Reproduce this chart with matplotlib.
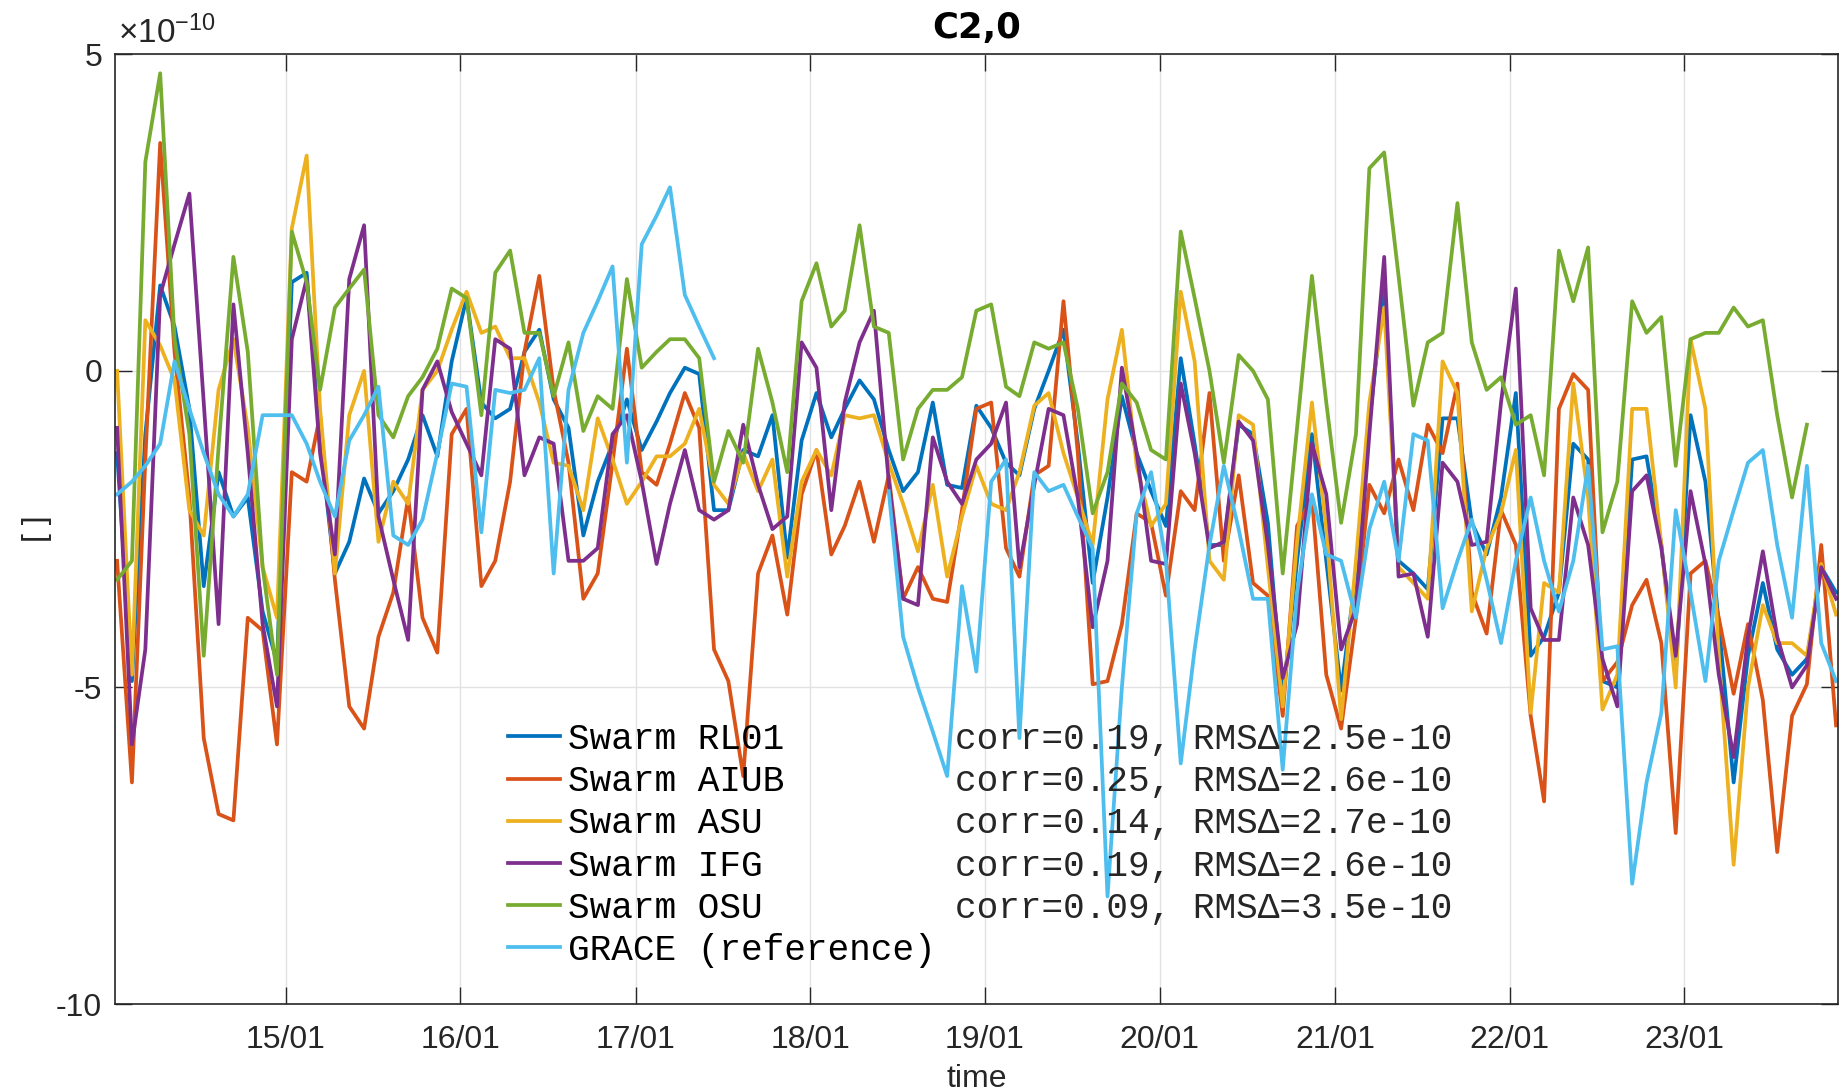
import numpy as np
import pandas as pd
import matplotlib
matplotlib.use('Agg')
import matplotlib.pyplot as plt
import matplotlib.dates as mdates

plt.rcParams['font.family'] = 'Liberation Sans'
plt.rcParams['axes.unicode_minus'] = False
plt.rcParams['mathtext.fontset'] = 'custom'
plt.rcParams['mathtext.rm'] = 'Liberation Sans'
plt.rcParams['mathtext.default'] = 'regular'

# monthly solutions Jan 2014 .. Nov 2023, values in units of 1e-10
months = pd.date_range('2014-01-01', periods=119, freq='MS') + pd.Timedelta(days=13)

rl01 = [-1.3, -4.9, -1.0, 1.35, 0.7, -0.6, -3.4, -1.6, -2.3, -2.0,
        -3.8, -4.6, 1.4, 1.55, -1.1, -3.2, -2.7, -1.7, -2.25, -1.9,
        -1.4, -0.7, -1.35, 0.15, 1.15, -0.5, -0.75, -0.6, 0.3, 0.65,
        -0.45, -0.9, -2.6, -1.75, -1.15, -0.45, -1.25, -0.8, -0.35, 0.05,
        -0.05, -2.2, -2.2, -1.25, -1.35, -0.7, -2.95, -1.1, -0.35, -1.05,
        -0.6, -0.15, -0.45, -1.25, -1.9, -1.6, -0.5, -1.8, -1.85, -0.55,
        -0.9, -1.45, -1.65, -0.6, 0.0, 0.65, -1.15, -3.35, -2.0, -0.4,
        -1.3, -1.9, -2.45, 0.2, -1.15, -2.75, -2.75, -0.85, -1.0, -2.4,
        -5.2, -3.0, -1.0, -3.0, -5.05, -3.2, -0.8, 1.3, -3.0, -3.2,
        -3.45, -0.75, -0.75, -2.4, -2.9, -2.0, -0.35, -4.5, -4.2, -3.5,
        -1.15, -1.4, -4.9, -5.0, -1.4, -1.35, -2.75, -4.8, -0.7, -1.75,
        -4.0, -6.5, -4.5, -3.35, -4.4, -4.8, -4.55, -3.1, -3.5]

aiub = [-3.0, -6.5, -1.4, 3.6, 0.3, -2.0, -5.8, -7.0, -7.1, -3.9,
        -4.1, -5.9, -1.6, -1.75, -0.7, -3.3, -5.3, -5.65, -4.2, -3.5,
        -2.0, -3.9, -4.45, -1.0, -0.6, -3.4, -3.0, -1.75, 0.3, 1.5,
        -0.3, -1.45, -3.6, -3.2, -1.45, 0.35, -1.6, -1.8, -1.15, -0.35,
        -0.9, -4.4, -4.9, -6.4, -3.2, -2.6, -3.85, -1.95, -1.25, -2.9,
        -2.45, -1.75, -2.7, -1.65, -3.6, -3.1, -3.6, -3.65, -2.2, -0.6,
        -0.5, -2.8, -3.25, -1.65, -1.5, 1.1, -1.3, -4.95, -4.9, -4.0,
        -2.25, -2.4, -3.55, -1.9, -2.2, -0.35, -3.0, -1.65, -3.35, -3.55,
        -5.45, -2.45, -2.0, -4.8, -5.65, -3.9, -1.8, -2.25, -1.4, -2.2,
        -0.85, -1.3, -0.2, -3.5, -4.15, -2.2, -2.75, -5.45, -6.8, -0.6,
        -0.05, -0.3, -4.9, -4.6, -3.7, -3.3, -4.3, -7.3, -3.2, -3.0,
        -3.9, -5.1, -4.0, -5.2, -7.6, -5.45, -4.95, -2.75, -5.6]

asu = [0.0, -4.8, 0.8, 0.4, -0.15, -2.2, -2.6, -0.3, 0.5, -0.9,
       -3.1, -3.9, 2.25, 3.4, -0.6, -3.2, -0.7, 0.0, -2.7, -1.75,
       -2.1, -0.3, 0.0, 0.65, 1.25, 0.6, 0.7, 0.2, 0.2, -0.5,
       -1.45, -1.5, -2.2, -0.75, -1.4, -2.1, -1.75, -1.35, -1.35, -1.15,
       -0.6, -1.8, -2.1, -1.3, -1.9, -1.4, -3.25, -1.75, -1.25, -1.65,
       -0.7, -0.75, -0.7, -1.45, -2.1, -2.85, -1.8, -3.25, -2.3, -1.5,
       -2.1, -2.2, -1.6, -0.55, -0.35, -1.3, -2.0, -2.75, -0.45, 0.65,
       -1.5, -2.45, -2.1, 1.25, 0.15, -3.0, -3.3, -0.7, -0.85, -3.1,
       -5.3, -2.7, -0.5, -2.5, -5.5, -3.0, -0.5, 1.0, -3.1, -3.35,
       -3.6, 0.15, -0.35, -3.8, -2.8, -2.25, -1.25, -5.4, -3.35, -3.5,
       -0.2, -2.0, -5.35, -4.8, -0.6, -0.6, -2.75, -5.0, 0.5, -0.6,
       -4.5, -7.8, -5.0, -3.7, -4.3, -4.3, -4.5, -3.05, -3.85]

ifg = [-0.9, -5.9, -4.4, 1.2, 2.0, 2.8, -0.5, -4.0, 1.05, -1.3,
       -4.0, -5.3, 0.5, 1.45, -1.3, -2.9, 1.45, 2.3, -2.3, -3.3,
       -4.25, -0.3, 0.15, -0.65, -1.15, -1.65, 0.5, 0.35, -1.65, -1.05,
       -1.15, -3.0, -3.0, -2.8, -1.0, -0.7, -1.75, -3.05, -2.1, -1.25,
       -2.2, -2.35, -2.2, -0.85, -1.8, -2.5, -2.3, 0.45, 0.05, -2.2,
       -0.5, 0.45, 0.95, -1.75, -3.6, -3.7, -1.05, -1.75, -2.1, -1.4,
       -1.15, -0.5, -3.1, -1.8, -0.6, -0.7, -2.0, -4.05, -3.0, 0.05,
       -1.3, -3.0, -3.05, -0.2, -1.3, -2.8, -2.7, -0.8, -1.1, -2.75,
       -4.85, -4.0, -1.15, -1.95, -4.4, -3.75, -1.0, 1.8, -3.25, -3.2,
       -4.2, -1.45, -1.75, -2.75, -2.7, -0.5, 1.3, -3.75, -4.25, -4.25,
       -2.0, -2.75, -4.55, -5.3, -1.9, -1.65, -2.8, -4.5, -1.9, -3.05,
       -4.8, -6.1, -4.2, -2.85, -4.2, -5.0, -4.65, -3.1, -3.6]

osu = [-3.3, -3.0, 3.3, 4.7, 0.5, -1.0, -4.5, -1.2, 1.8, 0.3,
       -3.1, -4.8, 2.2, 1.4, -0.3, 1.0, 1.3, 1.6, -0.7, -1.05,
       -0.4, -0.1, 0.35, 1.3, 1.15, -0.7, 1.55, 1.9, 0.6, 0.6,
       -0.4, 0.45, -0.95, -0.4, -0.6, 1.45, 0.05, 0.3, 0.5, 0.5,
       0.2, -1.75, -0.95, -1.45, 0.35, -0.5, -1.6, 1.1, 1.7, 0.7,
       0.95, 2.3, 0.7, 0.6, -1.4, -0.6, -0.3, -0.3, -0.1, 0.95,
       1.05, -0.25, -0.4, 0.45, 0.35, 0.45, -0.6, -2.25, -1.6, -0.2,
       -0.5, -1.25, -1.4, 2.2, 1.15, 0.0, -1.45, 0.25, 0.0, -0.45,
       -3.2, -0.9, 1.5, -0.5, -2.4, -1.0, 3.2, 3.45, 1.5, -0.55,
       0.45, 0.6, 2.65, 0.45, -0.3, -0.1, -0.85, -0.7, -1.65, 1.9,
       1.1, 1.95, -2.55, -1.75, 1.1, 0.6, 0.85, -1.5, 0.5, 0.6,
       0.6, 1.0, 0.7, 0.8, -0.7, -2.0, -0.85, np.nan, np.nan]

nan = np.nan
grace = [-1.95, -1.75, -1.5, -1.15, 0.15, -0.6, -1.3, -1.95, -2.3, -1.95,
         -0.7, -0.7, -0.7, -1.15, -1.75, -2.3, -1.1, -0.7, -0.25, -2.6,
         -2.75, -2.35, -1.3, -0.2, -0.25, -2.55, -0.3, -0.35, -0.3, 0.2,
         -3.2, -0.3, 0.6, 1.1, 1.65, -1.45, 2.0, 2.45, 2.9, 1.2,
         0.7, 0.2, nan, nan, nan, nan, nan, nan, nan, nan,
         nan, nan, nan, -1.9, -4.2, -5.0, -5.7, -6.4, -3.4, -4.75,
         -1.75, -1.4, -5.8, -1.6, -1.9, -1.8, -2.3, -2.8, -8.3, -5.0,
         -2.25, -1.6, -3.0, -6.2, -4.4, -2.75, -1.5, -2.5, -3.6, -3.6,
         -6.3, -3.5, -1.95, -2.9, -3.0, -3.9, -2.5, -1.75, -3.0, -1.0,
         -1.1, -3.75, -3.0, -2.35, -3.3, -4.3, -3.0, -2.0, -3.0, -3.8,
         -3.0, -1.5, -4.4, -4.35, -8.1, -6.5, -5.4, -2.2, -3.5, -4.9,
         -3.0, -2.2, -1.45, -1.25, -2.75, -3.9, -1.5, -4.3, -4.9]

names = ['Swarm RL01', 'Swarm AIUB', 'Swarm ASU', 'Swarm IFG', 'Swarm OSU',
         'GRACE (reference)']
stats = ['corr=0.19, RMS\u0394=2.5e-10', 'corr=0.25, RMS\u0394=2.6e-10',
         'corr=0.14, RMS\u0394=2.7e-10', 'corr=0.19, RMS\u0394=2.6e-10',
         'corr=0.09, RMS\u0394=3.5e-10']
colors = ['#0072BD', '#D95319', '#EDB120', '#7E2F8E', '#77AC30', '#4DBEEE']
series = [rl01, aiub, asu, ifg, osu, grace]

fig = plt.figure(figsize=(18.39, 10.92), dpi=100)
ax = fig.add_axes([114.7 / 1839, 88 / 1092, 1723.3 / 1839, 949.7 / 1092])

handles = []
for vals, c, name in zip(series, colors, names):
    h, = ax.plot(months, vals, color=c, lw=2.7, label=name)
    handles.append(h)

ax.set_xlim(pd.Timestamp('2014-01-09'), pd.Timestamp('2023-11-18'))
ax.set_ylim(-10, 5)
ax.set_yticks([-10, -5, 0, 5])
ax.xaxis.set_major_locator(mdates.YearLocator())
ax.xaxis.set_major_formatter(mdates.DateFormatter('%y/%m'))

ax.grid(True, color='#e2e2e2', lw=1.0)
ax.set_axisbelow(True)
for s in ax.spines.values():
    s.set_color('#262626')
    s.set_linewidth(1.2)
ax.tick_params(direction='in', length=12, width=1.0, color='#262626',
               top=True, right=True, labelsize=23, labelcolor='#262626', pad=9)
ax.tick_params(axis='x', pad=15)

ax.set_title('C2,0', fontsize=25.5, fontweight='bold', family='DejaVu Sans', pad=12)
ax.set_xlabel('time', fontsize=23, color='#262626')
ax.xaxis.set_label_coords(0.5, -0.079)
ax.xaxis.label.set_va('center')
ax.set_ylabel('[ ]', fontsize=23, color='#262626')
ax.yaxis.set_label_coords(-0.045, 0.5)
ax.yaxis.label.set_va('center')
ax.text(0.002, 1.004, r'$\times10^{-10}$', transform=ax.transAxes,
        fontsize=24, color='#262626', ha='left', va='bottom')

leg = ax.legend(handles=handles, loc='upper left',
                bbox_to_anchor=(508 / 1839, 1 - 722 / 1092),
                bbox_transform=fig.transFigure, frameon=False,
                prop={'family': 'Liberation Mono', 'size': 26},
                handlelength=1.45, handletextpad=0.2, labelspacing=0.2,
                borderpad=0, borderaxespad=0)

fig.canvas.draw()
renderer = fig.canvas.get_renderer()
for t, s in zip(leg.get_texts(), stats):
    bb = t.get_window_extent(renderer)
    fig.text(955 / 1839, (bb.y0 + bb.y1) / 2 / 1092, s, family='Liberation Mono',
             fontsize=26, ha='left', va='center', color='#262626')

fig.savefig('out.png', dpi=100)
